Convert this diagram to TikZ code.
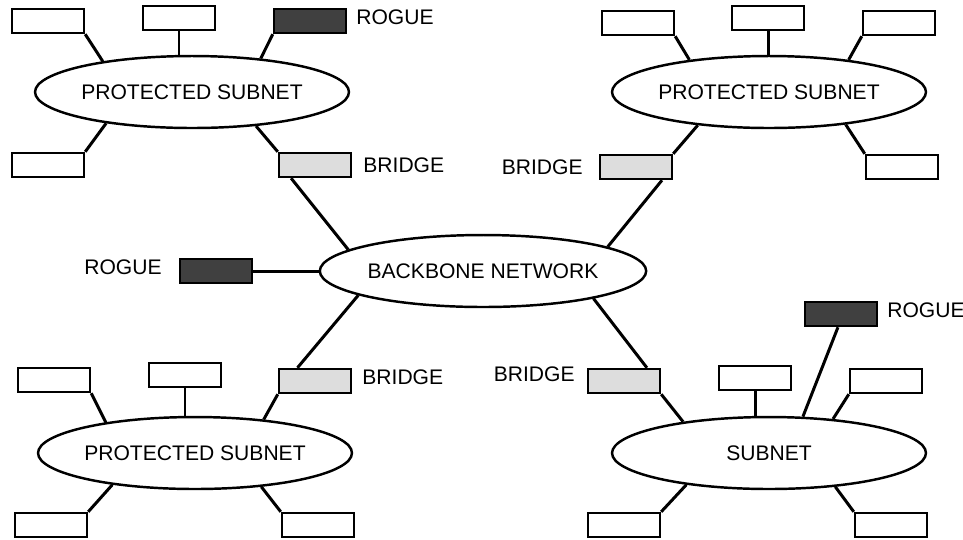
\documentclass[tikz,border=0pt]{standalone}
\usepackage{fontspec}
\setmainfont{Liberation Sans}
\usetikzlibrary{shapes.geometric,positioning}
\definecolor{RogueDark}{RGB}{64,64,64}
\definecolor{BridgeSoft}{RGB}{221,221,221}

\begin{document}
\begin{tikzpicture}[x=0.02cm, y=-0.02cm,
  every node/.style={font=\fontsize{12}{14}\selectfont},
  net/.style={draw, ellipse, line width=1.4pt, fill=white, minimum width=6.28cm, minimum height=1.44cm, inner sep=0pt},
  host/.style={draw, line width=1.4pt, fill=white, minimum width=1.44cm, minimum height=0.48cm, inner sep=0pt},
  rogue/.style={host, fill=RogueDark},
  bridge/.style={host, fill=BridgeSoft},
  link/.style={line width=1.7pt},
  tag/.style={inner sep=0pt}]
\useasboundingbox (0,0) rectangle (963,539);

\node[net] (bb) at (483,271) {BACKBONE NETWORK};

% top left
\node[net] (ps1) at (192,92) {PROTECTED SUBNET};
\node[host] (h11) at (48,21) {};
\node[host] (h12) at (179,18) {};
\node[rogue] (rg1) at (310,21) {};
\node[host] (h13) at (48,165) {};
\node[bridge] (br1) at (315,165) {};
\node[tag, anchor=west] (trg1) at (356,17) {ROGUE};
\node[tag, anchor=west] (tbr1) at (363,165) {BRIDGE};

\draw[link] (h11.south east) -- (ps1.161);
\draw[link] (h12.south) -- (h12.south |- ps1.north);
\draw[link] (rg1.south west) -- (ps1.26);
\draw[link] (h13.north east) -- (ps1.200);
\draw[link] (br1.north west) -- (ps1.332);
\draw[link] (br1.209) -- (bb.171);

% top right
\node[net] (ps2) at (769,92) {PROTECTED SUBNET};
\node[host] (h21) at (638,23) {};
\node[host] (h22) at (768,18) {};
\node[host] (h23) at (899,23) {};
\node[bridge] (br2) at (636,167) {};
\node[host] (h24) at (902,167) {};
\node[tag, anchor=east] (tbr2) at (583,167) {BRIDGE};

\draw[link] (h21.south east) -- (ps2.158);
\draw[link] (h22.south) -- (h22.south |- ps2.north);
\draw[link] (h23.south west) -- (ps2.22);
\draw[link] (br2.north east) -- (ps2.205);
\draw[link] (h24.north west) -- (ps2.337);
\draw[link] (br2.333) -- (bb.11);

% rogue on the backbone
\node[rogue] (rg2) at (216,271) {};
\node[tag, anchor=east] (trg2) at (162,267) {ROGUE};
\draw[link] (rg2.east) -- (bb.west);

% bottom left
\node[net] (ps3) at (195,453) {PROTECTED SUBNET};
\node[host] (h31) at (54,380) {};
\node[host] (h32) at (185,375) {};
\node[bridge] (br3) at (315,381) {};
\node[host] (h33) at (51,525) {};
\node[host] (h34) at (318,525) {};
\node[tag, anchor=west] (tbr3) at (362,377) {BRIDGE};

\draw[link] (bb.191) -- (br3.143);
\draw[link] (h31.south east) -- (ps3.161);
\draw[link] (h32.south) -- (h32.south |- ps3.north);
\draw[link] (br3.south west) -- (ps3.26);
\draw[link] (h33.north east) -- (ps3.201);
\draw[link] (h34.north west) -- (ps3.333);

% bottom right
\node[net] (sn) at (769,453) {SUBNET};
\node[bridge] (br4) at (624,381) {};
\node[host] (h41) at (755,378) {};
\node[rogue] (rg4) at (841,314) {};
\node[host] (h42) at (886,381) {};
\node[host] (h43) at (624,525) {};
\node[host] (h44) at (891,525) {};
\node[tag, anchor=east] (tbr4) at (575,374) {BRIDGE};
\node[tag, anchor=west] (trg4) at (887,310) {ROGUE};

\draw[link] (bb.346) -- (br4.30);
\draw[link] (br4.south east) -- (sn.160);
\draw[link] (h41.south) -- (h41.south |- sn.north);
\draw[link] (rg4.257) -- (sn.47);
\draw[link] (h42.south west) -- (sn.28);
\draw[link] (h43.north east) -- (sn.201);
\draw[link] (h44.north west) -- (sn.333);
\end{tikzpicture}
\end{document}
